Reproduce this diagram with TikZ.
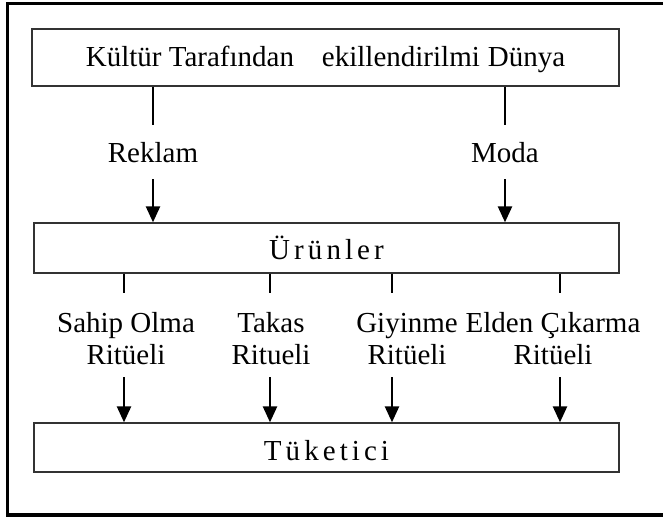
\documentclass[tikz,border=0pt]{standalone}
\usepackage{fontspec}
\setmainfont{Liberation Serif}
\newfontfamily\spacedfont[LetterSpace=14]{Liberation Serif}
\usetikzlibrary{arrows.meta}
\begin{document}
\begin{tikzpicture}[x=1pt,y=-1pt,
  box/.style={draw=black!80, line width=1.3pt, inner sep=0pt, minimum width=585pt,
              font=\fontsize{29}{32}\selectfont},
  lbl/.style={inner sep=0pt, font=\fontsize{29}{32}\selectfont},
  conn/.style={line width=2.4pt},
  arr/.style={conn, -{Triangle[width=14pt,length=16pt]}}
]
\useasboundingbox (0,0) rectangle (663,518);
\draw[line width=3.5pt] (7.5,3.5) rectangle (680,515);

% boxes
\node[box, minimum width=587pt, minimum height=57pt, text height=20pt, text depth=1pt]
  (world) at (325.5,57.5) {Kültür Tarafından\hspace{28pt}ekillendirilmi\hspace{8pt}Dünya};
\node[box, minimum height=50pt, text height=25pt, text depth=1pt]
  (prod) at (326.5,248) {\spacedfont Ürünler};
\node[box, minimum height=49pt, text height=25pt, text depth=0pt]
  (cons) at (326.5,447.5) {\spacedfont Tüketici};

% upper labels
\node[lbl, text height=38pt, text depth=16pt, anchor=base] (rek) at (153,163) {Reklam};
\node[lbl, text height=38pt, text depth=16pt, anchor=base] (moda) at (505,163) {Moda};
\draw[conn] (world.south -| rek) -- (rek.north);
\draw[arr] (rek.south) -- (prod.north -| rek);
\draw[conn] (world.south -| moda) -- (moda.north);
\draw[arr] (moda.south) -- (prod.north -| moda);

% lower labels
\node[lbl, anchor=base] (la) at (126,332) {\begin{tabular}[t]{@{}c@{}}Sahip Olma\\Ritüeli\end{tabular}};
\node[lbl, anchor=base] (lb) at (271,332) {\begin{tabular}[t]{@{}c@{}}Takas\\Ritueli\end{tabular}};
\node[lbl, anchor=base] (lc) at (407,332) {\begin{tabular}[t]{@{}c@{}}Giyinme\\Ritüeli\end{tabular}};
\node[lbl, anchor=base] (ld) at (553,332) {\begin{tabular}[t]{@{}c@{}}Elden Çıkarma\\Ritüeli\end{tabular}};

\foreach \n/\x in {a/124, b/270, c/392, d/560}{
  \coordinate (s\n) at (\x,293);
  \coordinate (e\n) at (\x,377);
  \draw[conn] (prod.south -| s\n) -- (s\n);
  \draw[arr] (e\n) -- (cons.north -| e\n);
}
\end{tikzpicture}
\end{document}
